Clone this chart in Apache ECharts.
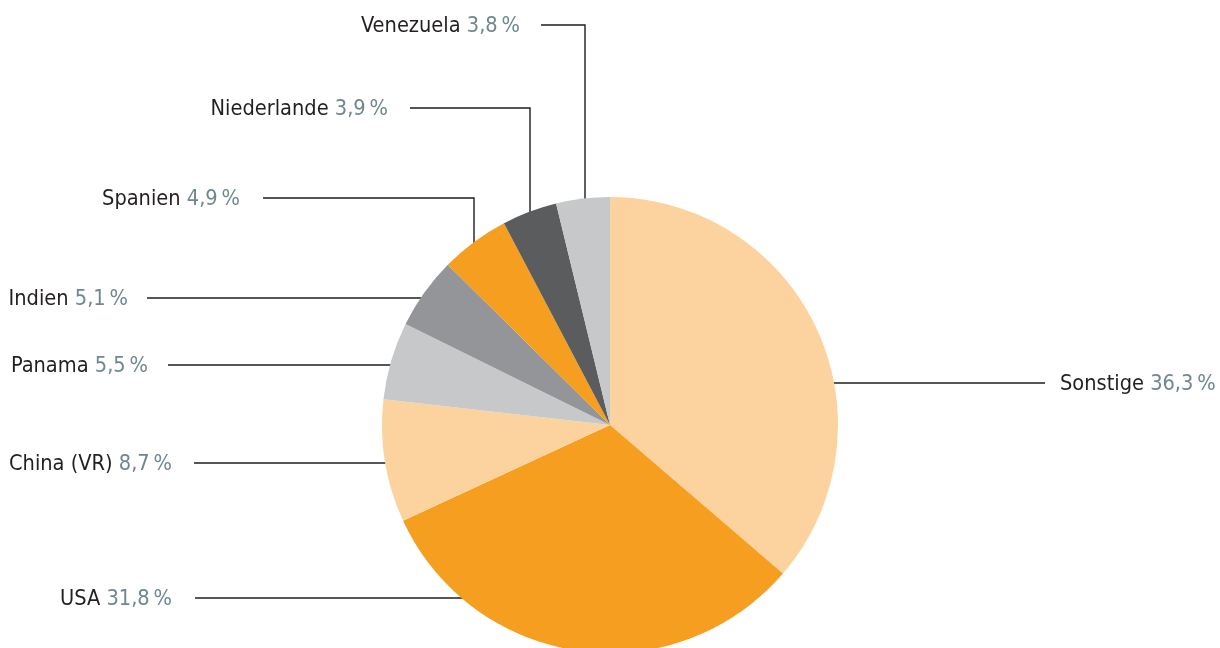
<!DOCTYPE html>
<html>
<head>
<meta charset="utf-8">
<script src="https://cdn.jsdelivr.net/npm/echarts@6/dist/echarts.min.js"></script>
<style>
html,body{margin:0;padding:0;background:#fff;}
#c{width:1220px;height:648px;}
</style>
</head>
<body>
<div id="c"></div>
<script>
const categories = ['Sonstige', 'USA', 'China (VR)', 'Panama', 'Indien', 'Spanien', 'Niederlande', 'Venezuela'];
const shares = [36.3, 31.8, 8.7, 5.5, 5.1, 4.9, 3.9, 3.8];
const colors = ['#FCD39F', '#F59E1F', '#FCD39F', '#C7C8C9', '#939598', '#F59E1F', '#5B5C5E', '#C7C8C9'];

// label placement (styling only)
const CX = 610, CY = 425, R = 228;
const labelPlace = [
  {type: 'h', side: 'r', y: 383, lineEnd: 1045, tx: 1060},
  {type: 'h', side: 'l', y: 598, lineEnd: 195, tx: 172},
  {type: 'h', side: 'l', y: 463, lineEnd: 194, tx: 172},
  {type: 'h', side: 'l', y: 365, lineEnd: 168, tx: 148},
  {type: 'h', side: 'l', y: 298, lineEnd: 147, tx: 128},
  {type: 'v', x: 474, y: 198, lineEnd: 263, tx: 240},
  {type: 'v', x: 530, y: 108, lineEnd: 410, tx: 388},
  {type: 'v', x: 585, y: 25, lineEnd: 541, tx: 520}
];

const fmt = v => v.toFixed(1).replace('.', ',') + '\u2009%';
const FONT = '"DejaVu Sans Condensed", "Noto Sans", sans-serif';

const chart = echarts.init(document.getElementById('c'), null, {renderer: 'canvas'});
chart.setOption({
  backgroundColor: '#ffffff',
  animation: false,
  series: [{
    type: 'pie',
    center: [CX, CY],
    radius: [0, R],
    startAngle: 90,
    clockwise: true,
    avoidLabelOverlap: false,
    silent: true,
    itemStyle: {borderWidth: 0},
    data: categories.map((n, i) => ({name: n, value: shares[i], itemStyle: {color: colors[i]}})),
    label: {
      show: true,
      position: 'outer',
      formatter: p => '{n|' + p.name + ' }{v|' + fmt(p.value) + '}',
      rich: {
        n: {fontFamily: FONT, fontSize: 21.6, color: '#231F20'},
        v: {fontFamily: FONT, fontSize: 21.6, color: '#6F8791'}
      }
    },
    labelLine: {show: true, length: 10, length2: 10, lineStyle: {color: '#1e1e1e', width: 1.4}},
    labelLayout: function (params) {
      const p = labelPlace[params.dataIndex];
      let pts;
      if (p.type === 'h') {
        const dx = Math.sqrt(R * R - (p.y - CY) * (p.y - CY));
        const ex = p.side === 'r' ? CX + dx - 2 : CX - dx + 2;
        pts = [[ex, p.y], [p.lineEnd, p.y], [p.lineEnd, p.y]];
      } else {
        const dy = Math.sqrt(R * R - (p.x - CX) * (p.x - CX));
        const ey = CY - dy + 2;
        pts = [[p.x, ey], [p.x, p.y], [p.lineEnd, p.y]];
      }
      return {
        x: p.tx,
        y: p.y + 1,
        align: p.side === 'r' ? 'left' : 'right',
        verticalAlign: 'middle',
        labelLinePoints: pts
      };
    }
  }]
});
</script>
</body>
</html>
